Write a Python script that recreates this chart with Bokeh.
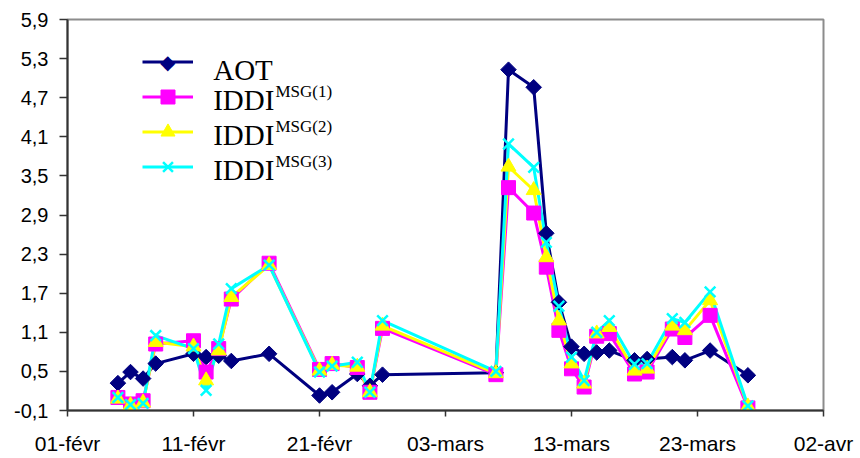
import math
import pandas as pd
from bokeh.plotting import figure
from bokeh.models import FixedTicker, Label, Legend, LegendItem, Range1d
from bokeh.embed import file_html
from bokeh.resources import INLINE

# ---- data ----
start_date = "2006-02-01"
dates = ["2006-02-05", "2006-02-06", "2006-02-07", "2006-02-08", "2006-02-11",
         "2006-02-12", "2006-02-13", "2006-02-14", "2006-02-17", "2006-02-21",
         "2006-02-22", "2006-02-24", "2006-02-25", "2006-02-26", "2006-03-07",
         "2006-03-08", "2006-03-10", "2006-03-11", "2006-03-12", "2006-03-13",
         "2006-03-14", "2006-03-15", "2006-03-16", "2006-03-18", "2006-03-19",
         "2006-03-21", "2006-03-22", "2006-03-24", "2006-03-27"]
aot = [0.32, 0.49, 0.39, 0.62, 0.77, 0.72, 0.74, 0.66, 0.77, 0.13,
       0.18, 0.46, 0.28, 0.45, 0.48, 5.13, 4.86, 2.62, 1.56, 0.88,
       0.77, 0.79, 0.82, 0.67, 0.69, 0.72, 0.67, 0.82, 0.44]
iddi1 = [0.10, 0.00, 0.05, 0.92, 0.97, 0.49, 0.85, 1.61, 2.16, 0.53,
         0.62, 0.56, 0.18, 1.16, 0.45, 3.32, 2.93, 2.10, 1.13, 0.54,
         0.26, 1.04, 1.08, 0.46, 0.49, 1.15, 1.02, 1.36, -0.06]
iddi2 = [0.08, -0.02, 0.02, 0.95, 0.88, 0.36, 0.82, 1.64, 2.13, 0.51,
         0.60, 0.57, 0.18, 1.20, 0.47, 3.64, 3.28, 2.25, 1.28, 0.62,
         0.31, 1.08, 1.18, 0.51, 0.54, 1.20, 1.13, 1.59, -0.04]
iddi3 = [0.10, -0.01, 0.01, 1.05, 0.85, 0.21, 0.92, 1.77, 2.13, 0.49,
         0.58, 0.64, 0.18, 1.28, 0.50, 3.99, 3.63, 2.48, 1.50, 0.72,
         0.36, 1.10, 1.28, 0.61, 0.62, 1.31, 1.25, 1.72, -0.03]

x_tick_dates = ["2006-02-01", "2006-02-11", "2006-02-21", "2006-03-03",
                "2006-03-13", "2006-03-23", "2006-04-02"]
x_tick_labels = ["01-févr", "11-févr", "21-févr", "03-mars", "13-mars",
                 "23-mars", "02-avr"]
y_ticks = [-0.1, 0.5, 1.1, 1.7, 2.3, 2.9, 3.5, 4.1, 4.7, 5.3, 5.9]
y_tick_labels = ["-0,1", "0,5", "1,1", "1,7", "2,3", "2,9", "3,5", "4,1",
                 "4,7", "5,3", "5,9"]

legend_main = ["AOT", "IDDI", "IDDI", "IDDI"]
legend_sup = ["", "MSG(1)", "MSG(2)", "MSG(3)"]

# ---- conversion of dates to day offsets ----
t0 = pd.Timestamp(start_date)
days = [(pd.Timestamp(d) - t0).days for d in dates]
xt = [(pd.Timestamp(d) - t0).days for d in x_tick_dates]

p = figure(width=860, height=458, output_backend="svg", toolbar_location=None,
           x_range=Range1d(xt[0], xt[-1]), y_range=Range1d(y_ticks[0], y_ticks[-1]),
           min_border_left=67, min_border_right=37, min_border_top=19,
           min_border_bottom=48)
p.background_fill_color = "white"
p.border_fill_color = "white"
p.outline_line_color = "#8c8c8c"
p.outline_line_width = 2
p.xgrid.visible = False
p.ygrid.visible = False

p.xaxis.ticker = FixedTicker(ticks=xt)
p.xaxis.major_label_overrides = {t: l for t, l in zip(xt, x_tick_labels)}
p.yaxis.ticker = FixedTicker(ticks=y_ticks)
p.yaxis.major_label_overrides = {t: l for t, l in zip(y_ticks, y_tick_labels)}

for ax in (p.xaxis[0], p.yaxis[0]):
    ax.axis_line_color = "#333333"
    ax.axis_line_width = 2
    ax.major_tick_line_color = "#333333"
    ax.major_tick_line_width = 1.5
    ax.minor_tick_line_color = None
    ax.major_tick_in = 0
    ax.major_label_text_font = "Liberation Sans"
    ax.major_label_text_color = "black"
p.xaxis.major_tick_out = 6
p.xaxis.major_label_standoff = 15
p.xaxis.major_label_text_font_size = "21px"
p.yaxis.major_tick_out = 8
p.yaxis.major_label_standoff = 11
p.yaxis.major_label_text_font_size = "20px"

series = [
    (aot, "#000080", "square", 11, math.pi / 4),
    (iddi1, "#ff00ff", "square", 14, 0.0),
    (iddi2, "#ffff00", "triangle", 15, 0.0),
    (iddi3, "#00ffff", "x", 15, 0.0),
]

line_rs = []
for vals, col, mk, sz, ang in series:
    line_rs.append(p.line(days, vals, line_color=col, line_width=3))

scat_rs = []
for vals, col, mk, sz, ang in series:
    if mk == "x":
        r = p.scatter(days, vals, marker=mk, size=sz, line_color=col,
                      line_width=2.5, angle=ang)
    else:
        r = p.scatter(days, vals, marker=mk, size=sz, fill_color=col,
                      line_color=col, line_width=1, angle=ang)
    scat_rs.append(r)

items = [LegendItem(label=" ", renderers=[line_rs[0]])]
items += [LegendItem(label=" ", renderers=[lr, sr])
          for lr, sr in zip(line_rs[1:], scat_rs[1:])]
legend = Legend(items=items, location=(74.7, 225.8), glyph_width=51,
                glyph_height=35, label_height=35, spacing=0, padding=0,
                margin=0, border_line_color=None, background_fill_alpha=0,
                label_standoff=0, label_width=0, label_text_font_size="4px")
p.add_layout(legend)

# rotated-square key for AOT (legend keys ignore marker angle)
row_y = [348.3, 313.3, 278.3, 243.3]  # legend row centres (screen, from frame bottom)
p.add_layout(Label(x=74.7 + 25.5, y=row_y[0], x_units="screen", y_units="screen",
                   text="◆", text_font="DejaVu Sans", text_font_size="20px",
                   text_color="#000080", text_align="center",
                   text_baseline="middle"))

for i, (txt, sup) in enumerate(zip(legend_main, legend_sup)):
    base = row_y[i] - (8 if i == 0 else 3)
    p.add_layout(Label(x=145.7, y=base, x_units="screen", y_units="screen",
                       text=txt, text_font="Liberation Serif",
                       text_font_size="29px", text_color="black",
                       text_baseline="alphabetic"))
    if sup:
        p.add_layout(Label(x=208, y=row_y[i] + 6, x_units="screen",
                           y_units="screen", text=sup,
                           text_font="Liberation Serif", text_font_size="17px",
                           text_color="black", text_baseline="alphabetic"))

open("out.html", "w").write(file_html(p, INLINE))
